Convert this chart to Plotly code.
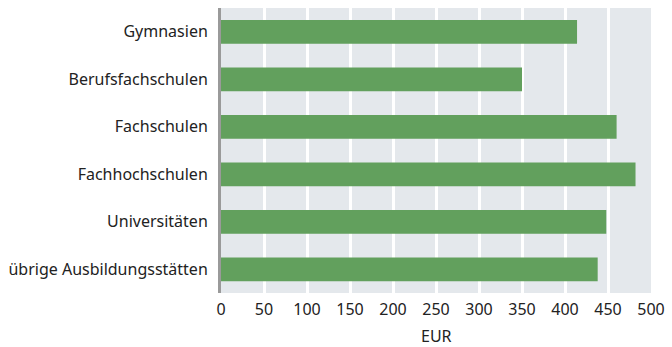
import plotly.graph_objects as go

categories = ["Gymnasien", "Berufsfachschulen", "Fachschulen", "Fachhochschulen",
              "Universitäten", "übrige Ausbildungsstätten"]
values = [414, 350, 460, 482, 448, 438]
x_ticks = [0, 50, 100, 150, 200, 250, 300, 350, 400, 450, 500]
x_title = "EUR"

fig = go.Figure(go.Bar(
    y=categories, x=values, orientation="h",
    marker=dict(color="#62a05d", line=dict(width=0)),
))

fig.update_layout(
    width=672, height=347,
    margin=dict(l=221, r=21, t=8, b=54),
    paper_bgcolor="white", plot_bgcolor="#e4e8ec",
    font=dict(family="Noto Sans", size=16, color="#222222"),
    bargap=0.5, showlegend=False,
    annotations=[dict(text=x_title, xref="paper", yref="paper", x=0.5, y=-0.151,
                      xanchor="center", yanchor="middle", showarrow=False,
                      font=dict(family="Noto Sans", size=16, color="#222222"))],
)
fig.update_xaxes(
    range=[0, 500], tickvals=x_ticks, ticktext=[str(v) for v in x_ticks],
    showgrid=True, gridcolor="white", gridwidth=3, zeroline=False,
    ticks="", ticklabelstandoff=5, automargin=False,
)
fig.update_yaxes(
    categoryorder="array", categoryarray=categories[::-1],
    showgrid=False, showline=True, linecolor="#9a9a9a", linewidth=3,
    ticks="", ticklabelstandoff=7, automargin=False,
)

fig.write_html("out.html")
